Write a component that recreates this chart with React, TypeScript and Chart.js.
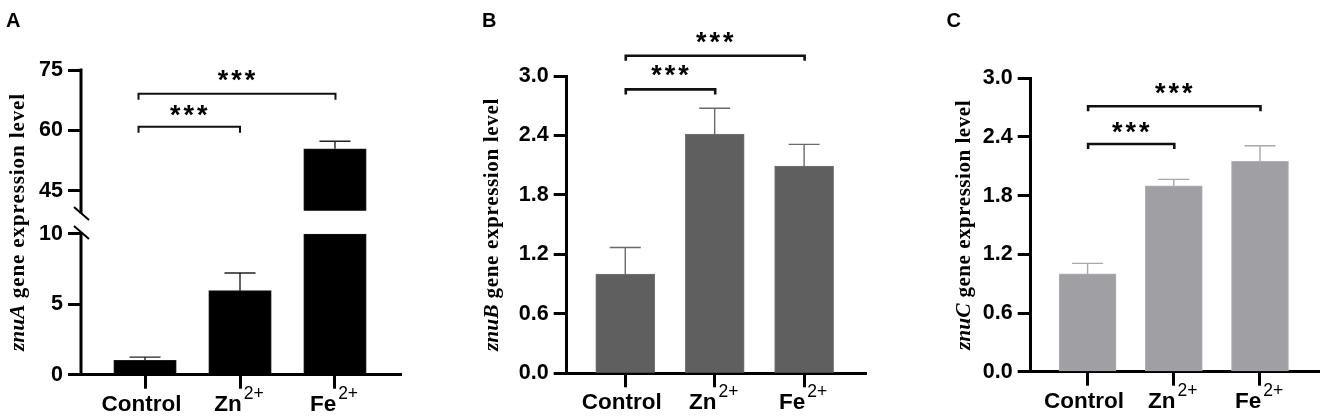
import React, { useEffect, useRef } from "react";
import { Chart, registerables, LinearScale } from "chart.js";

const categories = ["Control", "Zn", "Fe"];
const superscripts = ["", "2+", "2+"];

const znuAValues = [1.02, 5.97, 10];
const znuAUpperSegment = [null, null, [40, 55.4]];
const znuAErrorTops = [1.25, 7.23, 57.3];
const znuATicks = [0, 5, 10, 45, 60, 75];
const znuABrackets = [[0, 1, 60.9, 64.9], [0, 2, 69.1, 73.4]];

const znuBValues = [1.0, 2.415, 2.09];
const znuBErrorTops = [1.27, 2.675, 2.31];
const znuBTicks = [0, 0.6, 1.2, 1.8, 2.4, 3.0];
const znuBBrackets = [[0, 1, 2.865, 3.05], [0, 2, 3.205, 3.38]];

const znuCValues = [1.0, 1.9, 2.15];
const znuCErrorTops = [1.108, 1.967, 2.31];
const znuCTicks = [0, 0.6, 1.2, 1.8, 2.4, 3.0];
const znuCBrackets = [[0, 1, 2.328, 2.494], [0, 2, 2.714, 2.887]];

class BrokenLinearScale extends LinearScale {
  static id = "brokenLinear";
  static defaults = LinearScale.defaults;
  getPixelForValue(v: number) {
    if (v === null || v === undefined) return NaN;
    let d;
    if (v <= 10) d = (v / 10) * 0.4618;
    else if (v <= 40) d = 0.4618 + ((v - 10) / 30) * (0.5378 - 0.4618);
    else d = 1 - ((75 - v) * 4.024) / 304.7;
    return this.getPixelForDecimal(d);
  }
}

Chart.register(...registerables, BrokenLinearScale);

const SANS = '"Liberation Sans", Arial, sans-serif';
const SERIF = '"Liberation Serif", "Times New Roman", serif';

type Panel = any;

const panels: Panel[] = [
  {
    letter: "A", letterX: 6, gene: "znuA",
    left: 0, width: 440, axisX: 81, right: 401, top: 70, bottom: 374.7,
    xMin: -0.674, xMax: 2.695, barW: 62.5, yMax: 75, ticks: znuATicks,
    fmt: (v: number) => String(v), values: znuAValues, upper: znuAUpperSegment,
    tops: znuAErrorTops, brackets: znuABrackets,
    color: "#000000", border: "#1a1a1a", err: "#222222",
    titleX: 24, titleBottom: 351, titleLen: 258, labelBase: 410.5, broken: true,
    bracketWidth: 2, tip: 6,
  },
  {
    letter: "B", letterX: 482, gene: "znuB",
    left: 450, width: 420, axisX: 566.7, right: 866, top: 76, bottom: 373.3,
    xMin: -0.655, xMax: 2.692, barW: 59, yMax: 3, ticks: znuBTicks,
    fmt: (v: number) => v.toFixed(1), values: znuBValues,
    tops: znuBErrorTops, brackets: znuBBrackets,
    color: "#5f5f5f", border: "#757575", err: "#6a6a6a",
    titleX: 498, titleBottom: 351, titleLen: 253, labelBase: 409,
    bracketWidth: 2.6, tip: 5,
  },
  {
    letter: "C", letterX: 946.5, gene: "znuC",
    left: 920, width: 405, axisX: 1030.7, right: 1319.3, top: 78.3, bottom: 371.7,
    xMin: -0.66, xMax: 2.688, barW: 57, yMax: 3, ticks: znuCTicks,
    fmt: (v: number) => v.toFixed(1), values: znuCValues,
    tops: znuCErrorTops, brackets: znuCBrackets,
    color: "#a09fa4", border: "#b0afb3", err: "#a8a8aa",
    titleX: 969.5, titleBottom: 350, titleLen: 250, labelBase: 407.5,
    bracketWidth: 2.6, tip: 5,
  },
];

function overlay(p: Panel) {
  return {
    id: "overlay" + p.letter,
    afterDraw(chart: any) {
      const ctx = chart.ctx;
      const xs = chart.scales.x;
      const ys = chart.scales.y;
      ctx.save();

      // error bars
      ctx.strokeStyle = p.err;
      ctx.lineWidth = 1.4;
      p.tops.forEach((t: number, i: number) => {
        const x = xs.getPixelForValue(i);
        const base = ys.getPixelForValue(i === 2 && p.broken ? 55.4 : p.values[i]);
        const top = ys.getPixelForValue(t);
        ctx.beginPath();
        ctx.moveTo(x, base);
        ctx.lineTo(x, top);
        ctx.moveTo(x - 15.5, top);
        ctx.lineTo(x + 15.5, top);
        ctx.stroke();
      });

      // broken axis line
      if (p.broken) {
        const ax = xs.left;
        ctx.strokeStyle = "#000";
        ctx.lineWidth = 3;
        ctx.beginPath();
        ctx.moveTo(ax, p.top - 1.5);
        ctx.lineTo(ax, 213.5);
        ctx.moveTo(ax, 232.5);
        ctx.lineTo(ax, p.bottom);
        ctx.stroke();
        ctx.lineWidth = 2;
        ctx.beginPath();
        ctx.moveTo(ax - 7, 207);
        ctx.lineTo(ax + 8, 220);
        ctx.moveTo(ax - 7, 226);
        ctx.lineTo(ax + 8, 239);
        ctx.stroke();
      }

      // significance brackets + stars
      p.brackets.forEach((b: number[]) => {
        const x1 = xs.getPixelForValue(b[0]) + (p.broken ? -6.5 : 0.5);
        const x2 = xs.getPixelForValue(b[1]) + (p.broken && b[1] === 1 ? 0 : 0.5);
        const y = ys.getPixelForValue(b[2]);
        ctx.strokeStyle = "#111";
        ctx.lineWidth = p.bracketWidth;
        ctx.beginPath();
        ctx.moveTo(x1, y + p.tip);
        ctx.lineTo(x1, y);
        ctx.lineTo(x2, y);
        ctx.lineTo(x2, y + p.tip);
        ctx.stroke();
        const sy = ys.getPixelForValue(b[3]);
        ctx.fillStyle = "#000";
        ctx.font = `bold 27px ${SANS}`;
        (ctx as any).letterSpacing = "3px";
        ctx.textAlign = "center";
        ctx.textBaseline = "alphabetic";
        ctx.fillText("***", (x1 + x2) / 2 + 1, sy + 13);
        (ctx as any).letterSpacing = "0px";
      });

      // category labels with superscripts
      ctx.fillStyle = "#000";
      ctx.textBaseline = "alphabetic";
      ctx.textAlign = "left";
      categories.forEach((c: string, i: number) => {
        const cx = xs.getPixelForValue(i);
        ctx.font = `bold 22.5px ${SANS}`;
        const w1 = ctx.measureText(c).width;
        ctx.font = `17.5px ${SANS}`;
        const w2 = superscripts[i] ? ctx.measureText(superscripts[i]).width + 2 : 0;
        const start = cx - (w1 + w2) / 2 - (i === 0 ? 3.5 : 1);
        ctx.font = `bold 22.5px ${SANS}`;
        ctx.fillText(c, start, p.labelBase);
        if (superscripts[i]) {
          ctx.font = `17.5px ${SANS}`;
          ctx.fillText(superscripts[i], start + w1 + 2, p.labelBase - 12);
        }
      });

      // panel letter
      ctx.font = `bold 20px ${SANS}`;
      ctx.fillText(p.letter, p.letterX - p.left, 26.5);

      // y title
      ctx.save();
      ctx.translate(p.titleX - p.left, p.titleBottom);
      ctx.rotate(-Math.PI / 2);
      const rest = " gene expression level";
      ctx.font = `italic bold 21.5px ${SERIF}`;
      const gw = ctx.measureText(p.gene).width;
      ctx.fillText(p.gene, 0, 0);
      ctx.font = `bold 21px ${SERIF}`;
      const rw = ctx.measureText(rest).width;
      (ctx as any).letterSpacing = `${Math.max(0, (p.titleLen - gw - rw) / rest.length)}px`;
      ctx.fillText(rest, gw, 0);
      (ctx as any).letterSpacing = "0px";
      ctx.restore();

      ctx.restore();
    },
  };
}

function PanelChart({ p }: { p: Panel }) {
  const ref = useRef<HTMLCanvasElement | null>(null);
  useEffect(() => {
    const toPts = (arr: any[]) => arr.map((v, i) => ({ x: i, y: v }));
    const barStyle = {
      backgroundColor: p.color,
      borderColor: p.border,
      borderWidth: 1,
      barThickness: p.barW,
      grouped: false,
    };
    const datasets: any[] = [{ label: p.gene, data: toPts(p.values), ...barStyle }];
    if (p.upper) datasets.push({ label: p.gene + " upper", data: toPts(p.upper), ...barStyle });
    const chart = new Chart(ref.current as HTMLCanvasElement, {
      type: "bar",
      data: { datasets },
      options: {
        animation: false,
        responsive: false,
        events: [],
        layout: {
          padding: { left: 0, top: p.top, right: p.left + p.width - p.right, bottom: 0 },
        },
        plugins: { legend: { display: false }, tooltip: { enabled: false } },
        scales: {
          x: {
            type: "linear",
            offset: false,
            min: p.xMin,
            max: p.xMax,
            afterFit: (s: any) => { s.height = 417 - p.bottom; },
            afterBuildTicks: (s: any) => { s.ticks = categories.map((_, i) => ({ value: i })); },
            ticks: { display: false, autoSkip: false },
            grid: { offset: false, drawOnChartArea: false, tickLength: 14, tickWidth: 3, tickColor: "#000" },
            border: { display: true, width: 3, color: "#000" },
          },
          y: {
            type: p.broken ? "brokenLinear" : "linear",
            min: 0,
            max: p.yMax,
            afterFit: (s: any) => { s.width = p.axisX - p.left; },
            afterBuildTicks: (s: any) => { s.ticks = p.ticks.map((value: number) => ({ value })); },
            ticks: {
              autoSkip: false,
              padding: 5,
              color: "#000",
              font: { family: SANS, size: 21.5, weight: "bold" },
              callback: (v: any) => p.fmt(Number(v)),
            },
            grid: { drawOnChartArea: false, tickLength: 13, tickWidth: 3, tickColor: "#000" },
            border: { display: !p.broken, width: 3, color: "#000" },
          },
        } as any,
      },
      plugins: [overlay(p)],
    } as any);
    return () => chart.destroy();
  }, [p]);
  return (
    <canvas
      ref={ref}
      width={p.width}
      height={417}
      style={{ position: "absolute", left: p.left, top: 0, width: p.width, height: 417, display: "block" }}
    />
  );
}

export default function App() {
  return (
    <div style={{ position: "absolute", left: 0, top: 0, width: 1325, height: 417, overflow: "hidden", background: "#fff" }}>
      {panels.map((p) => <PanelChart key={p.letter} p={p} />)}
    </div>
  );
}
